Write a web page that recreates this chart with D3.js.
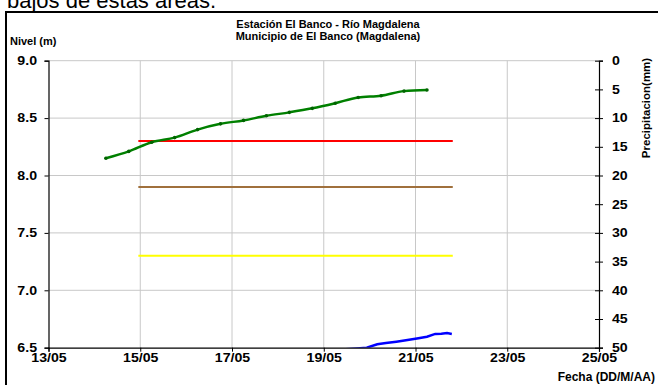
<!DOCTYPE html>
<html><head><meta charset="utf-8">
<script src="https://cdn.jsdelivr.net/npm/d3@7"></script>
<style>
html,body{margin:0;padding:0;background:#fff;overflow:hidden}
text{font-family:"Liberation Sans",Arial,sans-serif}
</style></head>
<body><svg id="c" width="658" height="385"></svg>
<script>
const titleLines = ["Estación El Banco - Río Magdalena", "Municipio de El Banco (Magdalena)"];
const introText = "bajos de estas áreas.";
const leftAxisLabel = "Nivel (m)";
const rightAxisLabel = "Precipitacion(mm)";
const xAxisLabel = "Fecha (DD/M/AA)";

const levelTimes = ["2011-05-14T06:00","2011-05-14T18:00","2011-05-15T06:00","2011-05-15T18:00",
  "2011-05-16T06:00","2011-05-16T18:00","2011-05-17T06:00","2011-05-17T18:00","2011-05-18T06:00",
  "2011-05-18T18:00","2011-05-19T06:00","2011-05-19T18:00","2011-05-20T06:00","2011-05-20T18:00",
  "2011-05-21T06:00"];
const levelValues = [8.15,8.21,8.29,8.33,8.40,8.45,8.48,8.52,8.55,8.585,8.63,8.68,8.695,8.735,8.745];

const thresholdStart = "2011-05-14T23:00";
const thresholdEnd = "2011-05-21T19:30";
const thresholdValues = [8.3, 7.9, 7.3];
const thresholdColors = ["#ff0000", "#a0703c", "#ffff00"];

const rainTimes = ["2011-05-19T10:00","2011-05-19T19:00","2011-05-19T22:30","2011-05-20T04:00",
  "2011-05-20T08:30","2011-05-20T14:00","2011-05-20T19:00","2011-05-21T00:45","2011-05-21T06:00",
  "2011-05-21T10:20","2011-05-21T13:30","2011-05-21T16:30","2011-05-21T19:00"];
const rainValues = [50.3,50.1,50.0,49.4,49.2,48.95,48.7,48.4,48.1,47.6,47.55,47.45,47.6];

const xTickDates = ["2011-05-13","2011-05-15","2011-05-17","2011-05-19","2011-05-21","2011-05-23","2011-05-25"];
const yTicks = [6.5,7.0,7.5,8.0,8.5,9.0];
const y2Ticks = [0,5,10,15,20,25,30,35,40,45,50];

const parse = s => new Date(s + (s.length===10 ? "T00:00" : "") + ":00Z");

const svg = d3.select("#c");
const L = 48.5, R = 599, T = 60.7, B = 347.7;
const SX = 1.18;
const x = d3.scaleUtc().domain([parse(xTickDates[0]), parse(xTickDates[xTickDates.length-1])]).range([L, R]);
const y = d3.scaleLinear().domain([6.5, 9]).range([B, T]);
const y2 = d3.scaleLinear().domain([0, 50]).range([T, B]);

// intro text, partially cut as in the source image
svg.append("text").attr("x", 7).attr("y", 7.5).attr("font-size", 22).attr("fill", "#000").text(introText);
// frame
svg.append("rect").attr("x", 6).attr("y", 12).attr("width", 700).attr("height", 400)
  .attr("fill", "none").attr("stroke", "#000").attr("stroke-width", 2);

// grid
const g = svg.append("g");
g.selectAll(".hg").data(yTicks.filter(d => d > 6.5)).join("line")
  .attr("x1", L).attr("x2", R).attr("y1", d => y(d)).attr("y2", d => y(d))
  .attr("stroke", "#c8c8c8").attr("stroke-width", 1);
g.selectAll(".vg").data(xTickDates.slice(1, -1).map(parse)).join("line")
  .attr("x1", d => x(d)).attr("x2", d => x(d)).attr("y1", T).attr("y2", B)
  .attr("stroke", "#c8c8c8").attr("stroke-width", 1);

// clip
svg.append("clipPath").attr("id", "pc").append("rect").attr("x", L).attr("y", T).attr("width", R-L).attr("height", B-T);

// thresholds
svg.append("g").selectAll("line").data(thresholdValues).join("line")
  .attr("x1", x(parse(thresholdStart))).attr("x2", x(parse(thresholdEnd)))
  .attr("y1", d => y(d)).attr("y2", d => y(d))
  .attr("stroke", (d, i) => thresholdColors[i]).attr("stroke-width", 2);

// blue series (right axis)
const rainData = rainTimes.map((t, i) => [parse(t), rainValues[i]]);
svg.append("path").datum(rainData).attr("clip-path", "url(#pc)")
  .attr("d", d3.line().x(d => x(d[0])).y(d => y2(d[1])))
  .attr("fill", "none").attr("stroke", "#0000ff").attr("stroke-width", 2.5);

// level series
const levelData = levelTimes.map((t, i) => [parse(t), levelValues[i]]);
svg.append("path").datum(levelData)
  .attr("d", d3.line().curve(d3.curveMonotoneX).x(d => x(d[0])).y(d => y(d[1])))
  .attr("fill", "none").attr("stroke", "#008000").attr("stroke-width", 2.5);
svg.append("g").selectAll("circle").data(levelData).join("circle")
  .attr("cx", d => x(d[0])).attr("cy", d => y(d[1])).attr("r", 1.8).attr("fill", "#006400");

// axes
const tickFont = a => a.selectAll(".tick text").attr("font-size", 12).attr("font-weight", "bold").attr("fill", "#000")
  .attr("font-family", '"Liberation Sans",Arial,sans-serif')
  .each(function() { const t = d3.select(this); const xv = +t.attr("x") || 0;
    t.attr("x", xv / SX).attr("transform", `scale(${SX},1)`); });
const ax = svg.append("g").attr("transform", `translate(0,${B})`)
  .call(d3.axisBottom(x).tickValues(xTickDates.map(parse)).tickFormat(d3.utcFormat("%d/%m")).tickSize(4).tickPadding(1.5));
ax.call(tickFont);
const ay = svg.append("g").attr("transform", `translate(${L},0)`)
  .call(d3.axisLeft(y).tickValues(yTicks).tickFormat(d3.format(".1f")).tickSize(4).tickPadding(7.5));
ay.call(tickFont);
const ay2 = svg.append("g").attr("transform", `translate(${R},0)`)
  .call(d3.axisRight(y2).tickValues(y2Ticks).tickSize(4).tickPadding(9));
ay2.call(tickFont);
ay2.selectAll(".tick").append("line").attr("x1", -4).attr("x2", 0).attr("stroke", "#000");
[ax, ay, ay2].forEach(a => { a.select(".domain").attr("stroke", "#000").attr("stroke-width", 1.2);
  a.selectAll(".tick line").attr("stroke", "#000"); });

// titles
svg.append("text").attr("x", 328).attr("y", 28).attr("text-anchor", "middle")
  .attr("font-size", 11).attr("font-weight", "bold").text(titleLines[0]);
svg.append("text").attr("x", 328).attr("y", 40).attr("text-anchor", "middle")
  .attr("font-size", 11).attr("font-weight", "bold").text(titleLines[1]);
svg.append("text").attr("x", 10).attr("y", 45).attr("font-size", 11).attr("font-weight", "bold").text(leftAxisLabel);
svg.append("text").attr("transform", "translate(650,108) rotate(-90)").attr("text-anchor", "middle")
  .attr("font-size", 11.5).attr("font-weight", "bold").text(rightAxisLabel);
svg.append("text").attr("x", 655).attr("y", 381).attr("text-anchor", "end")
  .attr("font-size", 12).attr("font-weight", "bold").text(xAxisLabel);
</script></body></html>
